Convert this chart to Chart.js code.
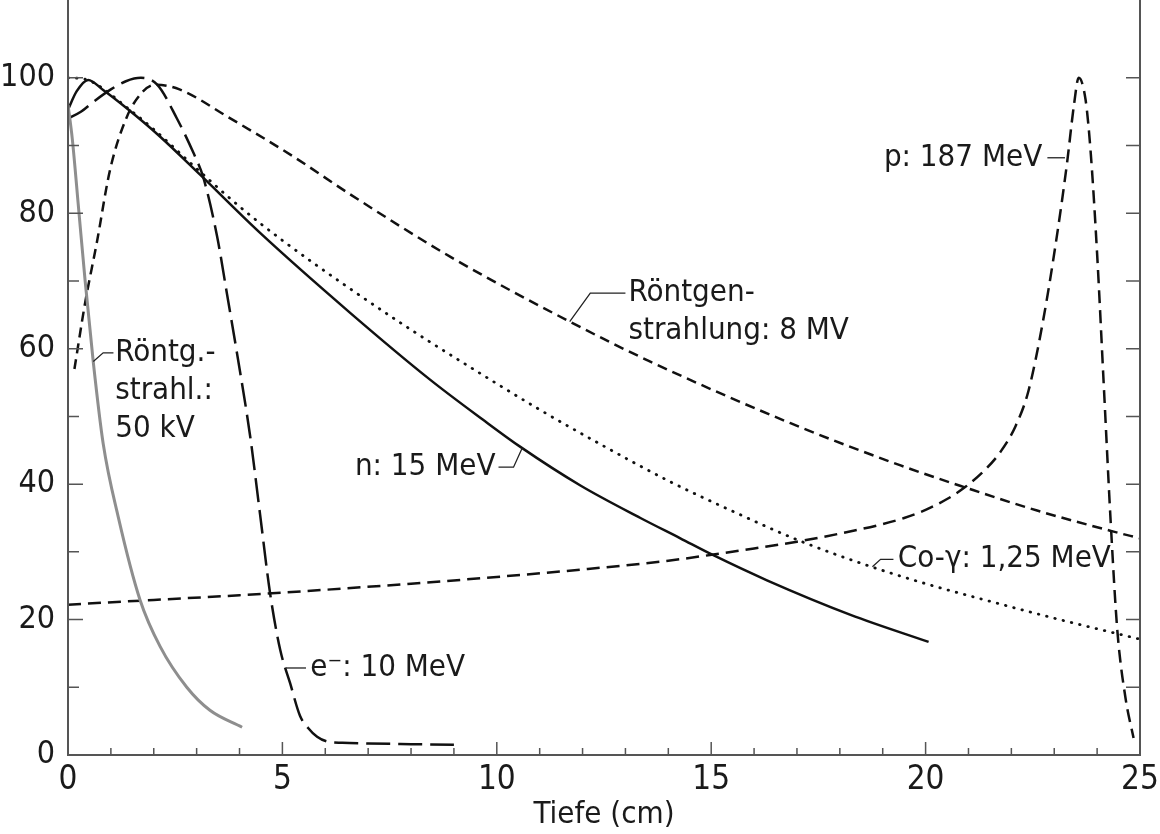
<!DOCTYPE html>
<html lang="de">
<head>
  <meta charset="UTF-8" />
  <title>Tiefendosiskurven</title>
  <script src="https://cdn.jsdelivr.net/npm/chart.js"></script>
  <style>
    body { margin: 0; background: #fff; }
    #wrap { width: 1160px; height: 834px; }
  </style>
</head>
<body>
  <div id="wrap"><canvas id="dosis" width="1160" height="834"></canvas></div>

  <script>
    // Tiefe (cm) und relative Dosis (%)
    const tiefe50kV = [0, 0.1, 0.25, 0.4, 0.59, 0.82, 1.17, 1.68, 2.15, 2.77, 3.31, 4.06];
    const dosis50kV = [96, 91, 80.5, 70, 58, 46, 35.2, 22.9, 16, 10, 6.6, 4.1];

    const tiefeE = [0, 0.3, 0.6, 1.0, 1.35, 1.7, 2.08, 2.54, 2.92, 3.15, 3.48, 3.71, 3.95, 4.25, 4.48, 4.71, 4.95, 5.18, 5.41, 5.6, 5.81, 6.04, 6.4, 7, 8, 9];
    const dosisE = [94, 95, 96.5, 98.3, 99.5, 100, 99, 94, 89, 85.4, 76.5, 68, 59, 47, 35.5, 24, 15.5, 10.6, 5.8, 4.0, 2.7, 2.0, 1.8, 1.7, 1.6, 1.5];

    const tiefe8MV = [0.15, 0.4, 0.67, 0.98, 1.37, 1.75, 2.05, 2.6, 3.71, 5.25, 6.58, 8.91, 11.7, 13.58, 16.85, 19.4, 20.93, 22.6, 24.32, 25];
    const dosis8MV = [57, 66.8, 75.6, 86.4, 94.2, 98, 99, 98.3, 94.3, 88.4, 82.8, 73.6, 64, 58.1, 49, 42.8, 39.5, 36.1, 33.1, 32];

    const tiefeN = [0, 0.2, 0.47, 0.82, 1.37, 2.15, 3.08, 4.48, 6.58, 8.45, 9.68, 10.55, 11.95, 13.35, 14.28, 15.05, 16.3, 18.25, 20.07];
    const dosisN = [95.3, 98, 99.7, 98.2, 95.5, 91.3, 85.7, 77.1, 65.3, 55.4, 49.5, 45.5, 39.8, 35, 32, 29.5, 25.8, 20.7, 16.7];

    const tiefeCo = [0, 0.4, 0.8, 1.3, 2, 3, 4, 5, 6.5, 8, 9.5, 11, 12.5, 14, 15.5, 17, 18.5, 20, 21.5, 23, 25];
    const dosisCo = [100, 99.8, 98.5, 96, 92.4, 86.6, 81, 76, 69.2, 62.8, 56.8, 51, 45.6, 40.5, 36, 31.8, 28.3, 25.3, 22.7, 20.2, 17.1];

    const tiefeP = [0, 2, 4, 6, 8, 10, 12, 14, 15.05, 16, 17, 18, 19, 19.5, 20, 20.5, 20.93, 21.4, 21.75, 22.1, 22.4, 22.75, 23.07, 23.3, 23.46, 23.57, 23.73, 23.85, 24.0, 24.16, 24.32, 24.47, 24.66, 24.85];
    const dosisP = [22.2, 22.9, 23.6, 24.4, 25.3, 26.3, 27.4, 28.7, 29.6, 30.5, 31.5, 32.7, 34.1, 35, 36.2, 37.8, 39.6, 42.2, 44.8, 48.6, 53.8, 64.5, 77, 87.5, 96, 100, 96.8, 89, 74, 54, 34, 18.5, 8.5, 2.5];

    const xTicks = [0, 5, 10, 15, 20, 25];
    const yTicks = [0, 20, 40, 60, 80, 100];

    // Beschriftungen an den Kurven (Datenkoordinaten)
    const beschriftungen = [
      { text: ['Röntgen-', 'strahlung: 8 MV'], at: [13.07, 68.2], align: 'left', leader: [[11.7, 64], [12.18, 68.2], [13.0, 68.2]] },
      { text: ['p: 187 MeV'], at: [22.72, 88.2], align: 'right', leader: [[22.84, 88.2], [23.25, 88.2]] },
      { text: ['n: 15 MeV'], at: [9.97, 42.5], align: 'right', leader: [[10.59, 45.3], [10.39, 42.5], [10.04, 42.5]] },
      { text: ['Co-γ: 1,25 MeV'], at: [19.35, 28.9], align: 'left', leader: [[18.76, 27.8], [18.95, 28.9], [19.25, 28.9]] },
      { text: ['e⁻: 10 MeV'], at: [5.65, 12.85], align: 'left', leader: [[5.08, 12.85], [5.55, 12.85]] },
      { text: ['Röntg.-', 'strahl.:', '50 kV'], at: [1.1, 59.4], align: 'left', leader: [[0.59, 58.1], [0.82, 59.4], [1.06, 59.4]] }
    ];

    const schrift = "'Liberation Sans Narrow', 'DejaVu Sans Condensed', Roboto, sans-serif";

    function punkte(xs, ys) {
      return xs.map((x, i) => ({ x: x, y: ys[i] }));
    }

    function kurve(xs, ys, farbe, breite, dash) {
      return {
        data: punkte(xs, ys),
        showLine: true,
        borderColor: farbe,
        borderWidth: breite,
        borderDash: dash,
        borderCapStyle: dash.length && dash[0] < 3 ? 'round' : 'butt',
        pointRadius: 0,
        cubicInterpolationMode: 'monotone',
        tension: 0.4,
        fill: false
      };
    }

    // Achsen mit nach innen zeigenden Strichen + Kurvenbeschriftung
    const rahmenPlugin = {
      id: 'rahmen',
      afterDatasetsDraw(chart) {
        const { ctx, chartArea: a, scales: { x, y } } = chart;
        ctx.save();
        ctx.strokeStyle = '#555';
        ctx.lineWidth = 2;
        ctx.beginPath();
        ctx.moveTo(a.left, a.top);
        ctx.lineTo(a.left, a.bottom);
        ctx.lineTo(a.right, a.bottom);
        ctx.lineTo(a.right, a.top);
        ctx.stroke();

        ctx.lineWidth = 1.5;
        ctx.beginPath();
        for (let t = 1; t <= 24; t++) {
          const px = x.getPixelForValue(t);
          const len = t % 5 === 0 ? 13 : 7;
          ctx.moveTo(px, a.bottom);
          ctx.lineTo(px, a.bottom - len);
        }
        for (let v = 10; v <= 100; v += 10) {
          const py = y.getPixelForValue(v);
          ctx.moveTo(a.left, py);
          ctx.lineTo(a.left + (v % 20 === 0 ? 15 : 11), py);
          ctx.moveTo(a.right, py);
          ctx.lineTo(a.right - 14, py);
        }
        ctx.stroke();

        ctx.strokeStyle = '#222';
        ctx.lineWidth = 1.3;
        ctx.fillStyle = '#1a1a1a';
        ctx.font = '31px ' + schrift;
        ctx.textBaseline = 'middle';
        beschriftungen.forEach(b => {
          ctx.beginPath();
          b.leader.forEach((p, i) => {
            const px = x.getPixelForValue(p[0]);
            const py = y.getPixelForValue(p[1]);
            if (i === 0) ctx.moveTo(px, py); else ctx.lineTo(px, py);
          });
          ctx.stroke();
          ctx.textAlign = b.align;
          const tx = x.getPixelForValue(b.at[0]);
          const ty = y.getPixelForValue(b.at[1]);
          b.text.forEach((zeile, i) => ctx.fillText(zeile, tx, ty + i * 38));
        });
        ctx.restore();
      }
    };

    new Chart(document.getElementById('dosis'), {
      type: 'scatter',
      data: {
        datasets: [
          kurve(tiefe50kV, dosis50kV, '#8e8e8e', 3, []),
          kurve(tiefeE, dosisE, '#111', 2.5, [24, 8]),
          kurve(tiefe8MV, dosis8MV, '#111', 2.5, [10, 6]),
          kurve(tiefeN, dosisN, '#111', 2.5, []),
          kurve(tiefeCo, dosisCo, '#111', 2.8, [0.5, 8]),
          kurve(tiefeP, dosisP, '#111', 2.5, [13, 7])
        ]
      },
      options: {
        responsive: false,
        animation: false,
        layout: { padding: { left: 0, right: 20, top: 0, bottom: 0 } },
        plugins: { legend: { display: false }, tooltip: { enabled: false } },
        scales: {
          x: {
            type: 'linear',
            min: 0,
            max: 25,
            grid: { display: false, drawTicks: false },
            border: { display: false },
            afterBuildTicks: s => { s.ticks = xTicks.map(v => ({ value: v })); },
            afterFit: s => { s.height = 79; s.paddingLeft = 0; s.paddingRight = 0; },
            ticks: { color: '#1a1a1a', padding: 6, maxRotation: 0, font: { family: schrift, size: 33 } },
            title: { display: true, text: 'Tiefe (cm)', color: '#1a1a1a', padding: { top: 0, bottom: 0 }, font: { family: schrift, size: 31 } }
          },
          y: {
            type: 'linear',
            min: 0,
            max: 111.5,
            grid: { display: false, drawTicks: false },
            border: { display: false },
            afterBuildTicks: s => { s.ticks = yTicks.map(v => ({ value: v })); },
            afterFit: s => { s.width = 68; s.paddingTop = 0; s.paddingBottom = 0; },
            ticks: { color: '#1a1a1a', padding: 13, font: { family: schrift, size: 32 } }
          }
        }
      },
      plugins: [rahmenPlugin]
    });
  </script>
</body>
</html>
